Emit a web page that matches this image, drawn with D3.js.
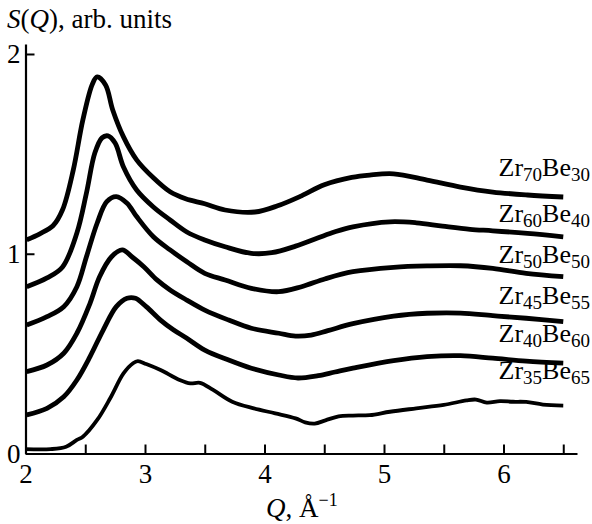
<!DOCTYPE html>
<html>
<head>
<meta charset="utf-8">
<script src="https://cdn.jsdelivr.net/npm/d3@7"></script>
<style>
  body { margin: 0; background: #fff; }
  svg text { font-family: "Liberation Serif", "Times New Roman", serif; fill: #000; }
</style>
</head>
<body>
<svg id="chart" width="592" height="524"></svg>
<script>
// series names (main symbol + subscript pairs)
const labels = [
    ["Zr", "70", "Be", "30"],
    ["Zr", "60", "Be", "40"],
    ["Zr", "50", "Be", "50"],
    ["Zr", "45", "Be", "55"],
    ["Zr", "40", "Be", "60"],
    ["Zr", "35", "Be", "65"]
];

// Zr70Be30
const q70 = [2.01, 2.12, 2.23, 2.31, 2.40, 2.48, 2.56, 2.60, 2.67, 2.73, 2.82, 2.93, 3.07, 3.21, 3.34, 3.50, 3.67, 3.92, 4.11, 4.31, 4.50, 4.73, 4.88, 5.08, 5.36, 5.64, 5.91, 6.20, 6.50];
const s70 = [1.07, 1.10, 1.14, 1.22, 1.42, 1.67, 1.85, 1.885, 1.845, 1.72, 1.585, 1.47, 1.38, 1.31, 1.275, 1.250, 1.219, 1.209, 1.240, 1.290, 1.345, 1.382, 1.394, 1.400, 1.369, 1.334, 1.309, 1.294, 1.284];
// Zr60Be40
const q60 = [2.01, 2.18, 2.31, 2.43, 2.51, 2.58, 2.64, 2.69, 2.75, 2.82, 2.93, 3.07, 3.21, 3.35, 3.50, 3.67, 3.89, 4.06, 4.26, 4.45, 4.59, 4.74, 5.05, 5.27, 5.49, 5.72, 5.91, 6.20, 6.50];
const s60 = [0.835, 0.879, 0.934, 1.104, 1.304, 1.504, 1.580, 1.590, 1.554, 1.434, 1.319, 1.234, 1.169, 1.109, 1.069, 1.035, 1.002, 1.005, 1.038, 1.080, 1.110, 1.135, 1.160, 1.155, 1.138, 1.122, 1.115, 1.102, 1.085];
// Zr50Be50
const q50 = [2.01, 2.18, 2.32, 2.43, 2.51, 2.60, 2.68, 2.76, 2.85, 2.93, 3.07, 3.21, 3.35, 3.50, 3.67, 3.89, 4.12, 4.31, 4.51, 4.74, 5.08, 5.36, 5.64, 5.91, 6.19, 6.50];
const s50 = [0.643, 0.685, 0.735, 0.835, 0.985, 1.154, 1.261, 1.286, 1.253, 1.186, 1.085, 1.019, 0.960, 0.902, 0.869, 0.827, 0.810, 0.835, 0.875, 0.910, 0.932, 0.939, 0.940, 0.927, 0.902, 0.885];
// Zr45Be55
const q45 = [2.01, 2.18, 2.32, 2.43, 2.54, 2.62, 2.72, 2.81, 2.89, 2.99, 3.10, 3.21, 3.35, 3.50, 3.70, 3.89, 4.12, 4.26, 4.39, 4.53, 4.74, 5.08, 5.36, 5.64, 5.91, 6.19, 6.50];
const s45 = [0.410, 0.443, 0.502, 0.602, 0.752, 0.885, 0.985, 1.019, 0.985, 0.935, 0.869, 0.819, 0.768, 0.718, 0.668, 0.627, 0.602, 0.588, 0.593, 0.615, 0.650, 0.688, 0.702, 0.703, 0.690, 0.677, 0.660];
// Zr40Be60
const q40 = [2.01, 2.18, 2.32, 2.43, 2.54, 2.65, 2.76, 2.85, 2.92, 3.01, 3.13, 3.24, 3.35, 3.50, 3.70, 3.89, 4.12, 4.28, 4.45, 4.59, 4.74, 5.08, 5.36, 5.64, 5.91, 6.19, 6.50];
const s40 = [0.193, 0.226, 0.284, 0.368, 0.485, 0.618, 0.735, 0.777, 0.777, 0.735, 0.668, 0.618, 0.577, 0.518, 0.468, 0.427, 0.393, 0.378, 0.390, 0.408, 0.427, 0.465, 0.485, 0.490, 0.477, 0.462, 0.452];
// Zr35Be65
const q35 = [2.00, 2.21, 2.34, 2.43, 2.48, 2.60, 2.71, 2.82, 2.90, 2.94, 3.01, 3.13, 3.29, 3.38, 3.46, 3.57, 3.73, 3.91, 4.09, 4.26, 4.34, 4.42, 4.51, 4.62, 4.74, 4.88, 5.05, 5.27, 5.50, 5.69, 5.77, 5.86, 5.97, 6.08, 6.19, 6.33, 6.50];
const s35 = [0.022, 0.022, 0.034, 0.068, 0.084, 0.168, 0.278, 0.401, 0.452, 0.462, 0.448, 0.418, 0.368, 0.351, 0.354, 0.318, 0.259, 0.226, 0.201, 0.176, 0.156, 0.150, 0.166, 0.186, 0.190, 0.192, 0.209, 0.226, 0.243, 0.266, 0.270, 0.255, 0.262, 0.259, 0.258, 0.245, 0.240];

const seriesQ = [q70, q60, q50, q45, q40, q35];
const seriesS = [s70, s60, s50, s45, s40, s35];
const xTicks = [2, 2.5, 3, 3.5, 4, 4.5, 5, 5.5, 6, 6.5];
const yTicks = [0, 1, 2];
const labelY = [1.39, 1.16, 0.955, 0.75, 0.56, 0.375]; // baseline of each name, data units

const svg = d3.select("#chart");

const x = d3.scaleLinear().domain([2, 6.615]).range([25.5, 577]);
const y = d3.scaleLinear().domain([0, 2.05]).range([453.5, 44]);

// axes
const xAxis = svg.append("g")
    .attr("transform", `translate(0,${y(0)})`)
    .call(d3.axisBottom(x)
        .tickValues(xTicks)
        .tickSizeInner(-9)
        .tickSizeOuter(0)
        .tickPadding(10)
        .tickFormat(d => Number.isInteger(d) ? d : ""));

const yAxis = svg.append("g")
    .attr("transform", `translate(${x(2)},0)`)
    .call(d3.axisLeft(y)
        .tickValues(yTicks)
        .tickSizeInner(-9)
        .tickSizeOuter(0)
        .tickPadding(5)
        .tickFormat(d3.format("d")));

[xAxis, yAxis].forEach(g => {
    g.select(".domain").attr("stroke", "#000").attr("stroke-width", 2.2);
    g.selectAll(".tick line").attr("stroke", "#000").attr("stroke-width", 2);
    g.selectAll(".tick text")
        .style("font-family", "'Liberation Serif', serif")
        .attr("font-size", 27);
});

// curves
const line = d3.line()
    .x(d => x(d[0]))
    .y(d => y(d[1]))
    .curve(d3.curveCatmullRom.alpha(0.5));

seriesQ.forEach((qs, i) => {
    const pts = qs.map((q, j) => [q, seriesS[i][j]]);
    svg.append("path")
        .datum(pts)
        .attr("fill", "none")
        .attr("stroke", "#000")
        .attr("stroke-width", i === 5 ? 3.8 : 4.8)
        .attr("stroke-linejoin", "round")
        .attr("d", line);
});

// series names
labels.forEach((l, i) => {
    const t = svg.append("text")
        .attr("x", 590)
        .attr("y", y(labelY[i]))
        .attr("text-anchor", "end")
        .attr("font-size", 26);
    t.append("tspan").text(l[0]);
    t.append("tspan").attr("font-size", 19).attr("dy", 5).text(l[1]);
    t.append("tspan").attr("dy", -5).text(l[2]);
    t.append("tspan").attr("font-size", 19).attr("dy", 5).text(l[3]);
});

// axis titles
const yt = svg.append("text").attr("x", 7).attr("y", 28).attr("font-size", 27);
yt.append("tspan").attr("font-style", "italic").text("S");
yt.append("tspan").text("(");
yt.append("tspan").attr("font-style", "italic").text("Q");
yt.append("tspan").text("), arb. units");

const xt = svg.append("text").attr("x", 266).attr("y", 517).attr("font-size", 27);
xt.append("tspan").attr("font-style", "italic").text("Q");
xt.append("tspan").text(", Å");
xt.append("tspan").attr("font-size", 18).attr("dy", -11).text("−1");
</script>
</body>
</html>
